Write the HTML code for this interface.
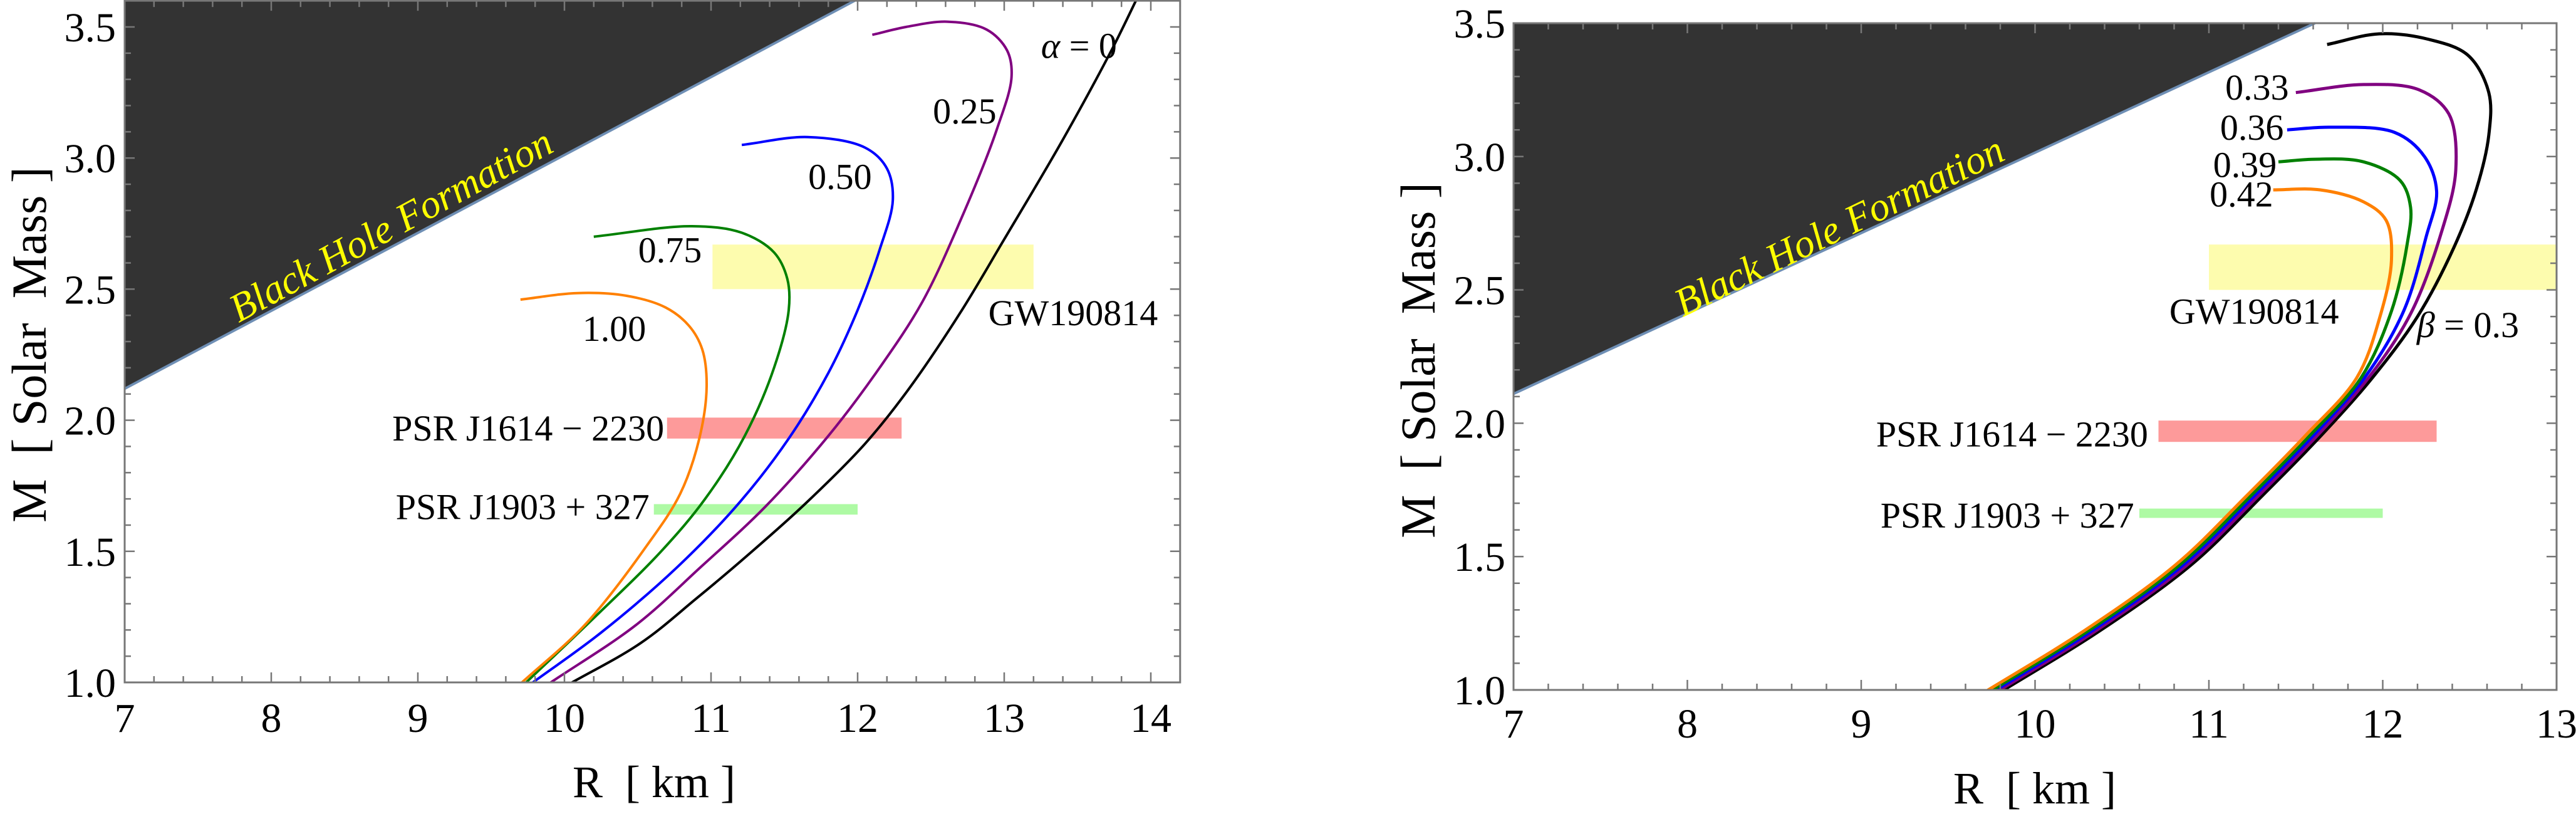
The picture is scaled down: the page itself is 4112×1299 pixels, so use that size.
<!DOCTYPE html>
<html><head><meta charset="utf-8">
<style>
html,body{margin:0;padding:0;background:#fff;}
svg{display:block;}
</style></head>
<body>
<svg id="s" width="4112" height="1299" viewBox="0 0 4112 1299" xmlns="http://www.w3.org/2000/svg" font-family="Liberation Serif, serif"></svg>
<script>
const S=document.getElementById('s');
let out='';
const F='font-family="Liberation Serif, serif"';
function dist(a,b){return Math.hypot(a[0]-b[0],a[1]-b[1]);}
function cr(pts){
  let d='M'+pts[0][0].toFixed(1)+','+pts[0][1].toFixed(1);
  for(let i=0;i<pts.length-1;i++){
    const p0=pts[Math.max(0,i-1)],p1=pts[i],p2=pts[i+1],p3=pts[Math.min(pts.length-1,i+2)];
    const d1=Math.pow(dist(p0,p1),0.5),d2=Math.pow(dist(p1,p2),0.5),d3=Math.pow(dist(p2,p3),0.5);
    let c1,c2;
    if(d1<1e-6){c1=[p1[0]+(p2[0]-p1[0])/3,p1[1]+(p2[1]-p1[1])/3];}
    else{c1=[0,1].map(k=>(d1*d1*p2[k]-d2*d2*p0[k]+(2*d1*d1+3*d1*d2+d2*d2)*p1[k])/(3*d1*(d1+d2)));}
    if(d3<1e-6){c2=[p2[0]-(p2[0]-p1[0])/3,p2[1]-(p2[1]-p1[1])/3];}
    else{c2=[0,1].map(k=>(d3*d3*p1[k]-d2*d2*p3[k]+(2*d3*d3+3*d3*d2+d2*d2)*p2[k])/(3*d3*(d3+d2)));}
    d+=' C'+c1[0].toFixed(1)+','+c1[1].toFixed(1)+' '+c2[0].toFixed(1)+','+c2[1].toFixed(1)+' '+p2[0].toFixed(1)+','+p2[1].toFixed(1);
  }
  return d;
}
function plot(c){
  const px=x=>c.x0+(x-7)*c.sx, py=m=>c.y0-(m-1)*c.sy;
  const L=c.x0,R=px(c.xmax),T=py(c.mmax),B=c.y0;
  out+=`<defs><clipPath id="${c.id}"><rect x="${L}" y="${T}" width="${R-L}" height="${B-T}"/></clipPath></defs>`;
  c.bands.forEach(b=>{out+=`<rect x="${px(b[0])}" y="${py(b[3])}" width="${px(b[1])-px(b[0])}" height="${py(b[2])-py(b[3])}" fill="${b[4]}"/>`;});
  out+=`<polygon points="${L},${T} ${L},${py(c.bh[0])} ${px(c.bh[1])},${T}" fill="#333"/>`;
  out+=`<line x1="${L}" y1="${py(c.bh[0])}" x2="${px(c.bh[1])}" y2="${T}" stroke="#6f8fb5" stroke-width="4"/>`;
  out+=`<text x="${c.bht[0]}" y="${c.bht[1]}" transform="rotate(${c.bht[2]} ${c.bht[0]} ${c.bht[1]})" text-anchor="middle" ${F} font-style="italic" font-size="${c.bht[3]}" fill="#ffff00">Black Hole Formation</text>`;
  out+=`<g clip-path="url(#${c.id})" fill="none" stroke-width="${c.lw}" stroke-linejoin="round">`;
  c.curves.forEach(cv=>{out+=`<path d="${cr(cv.p.map(q=>[px(q[0]),py(q[1])]))}" stroke="${cv.c}"/>`;});
  out+='</g>';
  out+=`<rect x="${L}" y="${T}" width="${R-L}" height="${B-T}" fill="none" stroke="#777" stroke-width="3"/>`;
  for(let i=0;;i++){const x=7+i*0.2; if(x>c.xmax+1e-6)break; const maj=Math.abs(x-Math.round(x))<1e-6; const l=maj?16:10; const X=px(x);
    out+=`<line x1="${X}" y1="${B}" x2="${X}" y2="${B-l}" stroke="#777" stroke-width="2.5"/><line x1="${X}" y1="${T}" x2="${X}" y2="${T+l}" stroke="#777" stroke-width="2.5"/>`;
    if(maj) out+=`<text x="${X}" y="${c.xlb}" text-anchor="middle" ${F} font-size="66">${Math.round(x)}</text>`;}
  for(let i=0;;i++){const m=1+i*0.1; if(m>c.mmax+1e-6)break; const maj=Math.abs(m*2-Math.round(m*2))<1e-6; const l=maj?16:10; const Y=py(m);
    out+=`<line x1="${L}" y1="${Y}" x2="${L+l}" y2="${Y}" stroke="#777" stroke-width="2.5"/><line x1="${R}" y1="${Y}" x2="${R-l}" y2="${Y}" stroke="#777" stroke-width="2.5"/>`;
    if(maj) out+=`<text x="${c.ylx}" y="${Y+23}" text-anchor="end" ${F} font-size="66">${m.toFixed(1)}</text>`;}
  c.labels.forEach(t=>{out+=`<text x="${px(t[0])}" y="${py(t[1])+20}" text-anchor="${t[3]}" ${F} font-size="58">${t[2]}</text>`;});
  out+=`<text x="${c.xl[0]}" y="${c.xl[1]}" text-anchor="middle" ${F} font-size="72" xml:space="preserve">R  [ km ]</text>`;
  out+=`<text transform="translate(${c.yl[0]},${c.yl[1]}) rotate(-90)" text-anchor="middle" ${F} font-size="78" xml:space="preserve">M  [ Solar  Mass ]</text>`;
}
plot({id:'c1',x0:199,sx:234,y0:1089,sy:418.4,xmax:14.2,mmax:3.6,lw:4,xlb:1168,ylx:185,
 bh:[2.12,11.98],bht:[634,378,-28.5,64],
 bands:[[11.01,13.2,2.5,2.67,'#fdfcae'],[10.7,12.3,1.93,2.01,'#fd9a9a'],[10.61,12.0,1.64,1.68,'#aefaa4']],
 curves:[
  {c:'#000',p:[[10.02,0.99],[10.52,1.15],[10.90,1.32],[11.26,1.49],[11.64,1.68],[12.05,1.91],[12.35,2.12],[12.70,2.41],[13.0,2.69],[13.4,3.07],[13.74,3.42],[13.95,3.66]]},
  {c:'#800080',p:[[9.88,0.99],[10.49,1.22],[10.93,1.44],[11.37,1.67],[11.80,1.94],[12.15,2.20],[12.44,2.45],[12.70,2.76],[12.95,3.11],[13.05,3.31],[13.02,3.41],[12.88,3.49],[12.61,3.52],[12.33,3.50],[12.1,3.47]]},
  {c:'#0000ff',p:[[9.76,0.99],[10.25,1.19],[10.77,1.44],[11.20,1.69],[11.53,1.93],[11.80,2.18],[12.0,2.42],[12.15,2.65],[12.24,2.84],[12.2,2.96],[12.05,3.04],[11.66,3.08],[11.21,3.05]]},
  {c:'#008000',p:[[9.72,0.99],[10.19,1.24],[10.66,1.50],[10.96,1.70],[11.23,1.94],[11.43,2.20],[11.53,2.42],[11.52,2.54],[11.43,2.64],[11.21,2.715],[10.87,2.74],[10.2,2.70]]},
  {c:'#ff8000',p:[[9.69,0.99],[10.14,1.22],[10.56,1.52],[10.79,1.72],[10.92,1.93],[10.97,2.13],[10.94,2.27],[10.85,2.36],[10.69,2.43],[10.42,2.475],[10.09,2.485],[9.70,2.46]]}],
 labels:[[13.51,3.43,'<tspan font-style="italic">α</tspan> = 0','middle'],[12.73,3.18,'0.25','middle'],[11.88,2.93,'0.50','middle'],[10.72,2.65,'0.75','middle'],[10.34,2.35,'1.00','middle'],[13.47,2.41,'GW190814','middle'],[10.68,1.97,'PSR J1614 − 2230','end'],[10.58,1.67,'PSR J1903 + 327','end']],
 xl:[1044,1272],yl:[73,550]});
function low(d){return [[9.77+d,0.98],[10.38+d,1.225],[10.9+d,1.47],[11.31+d,1.73],[11.64+d,1.95],[11.94+d,2.17]];}
plot({id:'c2',x0:2416,sx:277.5,y0:1101,sy:425.6,xmax:13,mmax:3.5,lw:5,xlb:1177,ylx:2403,
 bh:[2.11,11.61],bht:[2945,380,-26,64],
 bands:[[11.0,13.0,2.5,2.67,'#fdfcae'],[10.71,12.31,1.93,2.01,'#fd9a9a'],[10.6,12.0,1.645,1.68,'#aefaa4']],
 curves:[
  {c:'#000',p:low(0).concat([[12.2,2.40],[12.41,2.66],[12.54,2.88],[12.61,3.08],[12.61,3.24],[12.49,3.38],[12.26,3.44],[11.98,3.46],[11.68,3.42]])},
  {c:'#800080',p:low(-0.022).concat([[12.16,2.41],[12.33,2.70],[12.42,2.95],[12.38,3.16],[12.21,3.25],[11.89,3.27],[11.5,3.24]])},
  {c:'#0000ff',p:low(-0.045).concat([[12.12,2.42],[12.25,2.70],[12.31,2.87],[12.24,3.0],[12.07,3.09],[11.70,3.11],[11.45,3.10]])},
  {c:'#008000',p:low(-0.065).concat([[12.05,2.42],[12.14,2.67],[12.16,2.81],[12.1,2.91],[11.89,2.98],[11.61,2.99],[11.40,2.98]])},
  {c:'#ff8000',p:low(-0.09).concat([[11.98,2.39],[12.05,2.61],[12.02,2.76],[11.89,2.83],[11.64,2.875],[11.37,2.875]])}],
 labels:[[11.46,3.26,'0.33','end'],[11.43,3.11,'0.36','end'],[11.39,2.97,'0.39','end'],[11.37,2.86,'0.42','end'],[11.26,2.42,'GW190814','middle'],[12.49,2.37,'<tspan font-style="italic">β</tspan> = 0.3','middle'],[10.65,1.96,'PSR J1614 − 2230','end'],[10.57,1.655,'PSR J1903 + 327','end']],
 xl:[3248,1282],yl:[2290,575]});
S.innerHTML=out;
</script>
</body></html>
